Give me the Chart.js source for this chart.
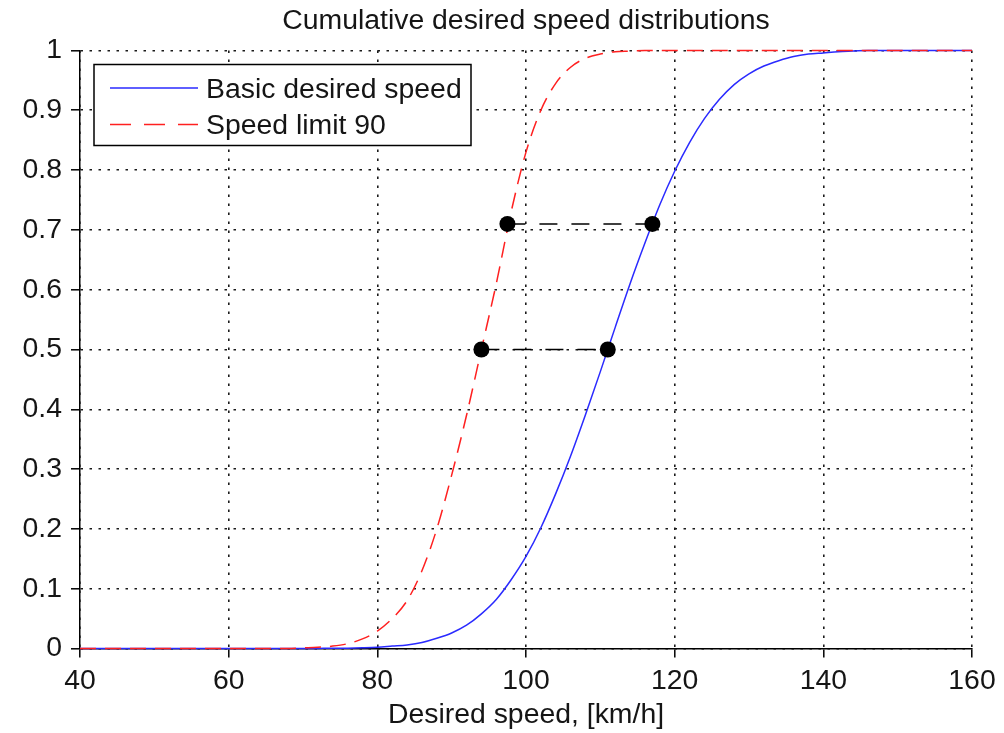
<!DOCTYPE html>
<html>
<head>
<meta charset="utf-8">
<title>Cumulative desired speed distributions</title>
<script src="https://cdn.jsdelivr.net/npm/chart.js@4/dist/chart.umd.min.js"></script>
<style>
  html, body { margin: 0; padding: 0; background: #fff; }
  canvas { display: block; }
</style>
</head>
<body>
<canvas id="cdf" width="1004" height="733"></canvas>
<script>
// Desired speed grid [km/h]
const speeds = [
    40, 42, 44, 46, 48, 50, 52, 54, 56, 58, 60, 62, 64, 66, 68,
    70, 72, 74, 76, 78, 80, 82, 84, 86, 88, 90, 92, 94, 96, 98,
    100, 102, 104, 106, 108, 110, 112, 114, 116, 118, 120, 122, 124, 126, 128,
    130, 132, 134, 136, 138, 140, 142, 144, 146, 148, 150, 152, 154, 156, 158, 160
];

// Cumulative share, basic desired speed
const basicCdf = [
    0, 0, 0, 0, 0, 0, 0, 0, 0, 0, 0, 0, 0, 0, 0,
    0.0001, 0.0002, 0.0003, 0.0006, 0.0011, 0.002, 0.004, 0.006, 0.010, 0.017, 0.026, 0.039, 0.058, 0.082, 0.115,
    0.154, 0.202, 0.259, 0.322, 0.391, 0.463, 0.537, 0.610, 0.678, 0.742, 0.798, 0.846, 0.886, 0.918, 0.943,
    0.961, 0.974, 0.983, 0.990, 0.994, 0.996, 0.998, 0.999, 1, 1, 1, 1, 1, 1, 1, 1
];

// Cumulative share, speed limit 90
const limitCdf = [
    0, 0, 0, 0, 0, 0, 0, 0, 0, 0, 0, 0, 0, 0, 0,
    0.001, 0.002, 0.004, 0.008, 0.016, 0.029, 0.05, 0.08, 0.13, 0.20, 0.29, 0.39, 0.50, 0.61, 0.73,
    0.83, 0.90, 0.945, 0.972, 0.987, 0.994, 0.998, 0.999, 1, 1, 1, 1, 1, 1, 1,
    1, 1, 1, 1, 1, 1, 1, 1, 1, 1, 1, 1, 1, 1, 1, 1
];

// Marked quantiles: speed under limit -> basic speed at the same level
const markerLevels = [0.5, 0.71];
const markerLimitSpeeds = [94, 97.5];
const markerBasicSpeeds = [111, 117];

const xTicks = [40, 60, 80, 100, 120, 140, 160];
const yTicks = [0, 0.1, 0.2, 0.3, 0.4, 0.5, 0.6, 0.7, 0.8, 0.9, 1];

const TITLE = 'Cumulative desired speed distributions';
const FONT = "'Liberation Sans', Arial, sans-serif";
const FSIZE = 28.4;
const INK = '#151515';

const toPoints = ys => speeds.map((s, i) => ({ x: s, y: ys[i] }));

const connectors = markerLevels.map((lvl, i) => ({
    label: '',
    data: [{ x: markerLimitSpeeds[i], y: lvl }, { x: markerBasicSpeeds[i], y: lvl }],
    borderColor: '#000',
    borderWidth: 1.5,
    borderDash: [18, 14],
    pointRadius: 8,
    pointBackgroundColor: '#000',
    pointBorderWidth: 0,
    order: 0,
    clip: false,
}));

// Title centred over the plot area + boxed legend in the top left corner
const decorations = {
    id: 'decorations',
    afterDraw(chart) {
        const { ctx, chartArea } = chart;
        ctx.save();
        ctx.font = FSIZE + 'px ' + FONT;
        ctx.fillStyle = INK;
        ctx.textAlign = 'center';
        ctx.textBaseline = 'alphabetic';
        ctx.fillText(TITLE, (chartArea.left + chartArea.right) / 2, 28.5);

        const x = chartArea.left + 14, y = chartArea.top + 14;
        const w = 377, h = 81;
        const items = [
            { text: 'Basic desired speed', color: '#2a2aff', dash: [] },
            { text: 'Speed limit 90', color: '#ff2020', dash: [21, 13] },
        ];
        ctx.fillStyle = '#fff';
        ctx.fillRect(x, y, w, h);
        ctx.strokeStyle = '#000';
        ctx.lineWidth = 1.5;
        ctx.setLineDash([]);
        ctx.strokeRect(x, y, w, h);
        ctx.textAlign = 'left';
        items.forEach((it, i) => {
            const ly = y + 23.5 + i * 36.5;
            ctx.strokeStyle = it.color;
            ctx.lineWidth = 1.5;
            ctx.setLineDash(it.dash);
            ctx.beginPath();
            ctx.moveTo(x + 16, ly);
            ctx.lineTo(x + 104, ly);
            ctx.stroke();
            ctx.fillStyle = INK;
            ctx.fillText(it.text, x + 112, ly + 9.5);
        });
        ctx.restore();
    }
};

const gridStyle = {
    color: '#1a1a1a',
    lineWidth: 1.6,
    tickColor: '#000',
    tickWidth: 1.5,
    tickBorderDash: [],
    tickLength: 9,
};
const borderStyle = { display: true, color: '#000', width: 1.5, dash: [2.5, 6.5] };

new Chart(document.getElementById('cdf'), {
    type: 'line',
    data: {
        datasets: [
            ...connectors,
            {
                label: 'Speed limit 90',
                data: toPoints(limitCdf),
                borderColor: '#ff2020',
                borderWidth: 1.5,
                borderDash: [16, 9],
                pointRadius: 0,
                cubicInterpolationMode: 'monotone',
                order: 1,
                clip: false,
            },
            {
                label: 'Basic desired speed',
                data: toPoints(basicCdf),
                borderColor: '#2a2aff',
                borderWidth: 1.5,
                pointRadius: 0,
                cubicInterpolationMode: 'monotone',
                order: 2,
                clip: false,
            },
        ],
    },
    options: {
        responsive: false,
        animation: false,
        devicePixelRatio: 1,
        events: [],
        layout: { padding: { left: 0, right: 32, top: 50.5, bottom: 0 } },
        plugins: {
            legend: { display: false },
            tooltip: { enabled: false },
            title: { display: false },
        },
        scales: {
            x: {
                type: 'linear',
                min: 40,
                max: 160,
                afterBuildTicks: s => { s.ticks = xTicks.map(v => ({ value: v })); },
                afterFit: s => { s.height = 84.5; },
                ticks: { color: INK, font: { family: FONT, size: FSIZE }, padding: 7, maxRotation: 0, callback: v => String(v) },
                grid: gridStyle,
                border: borderStyle,
                title: {
                    display: true,
                    text: 'Desired speed, [km/h]',
                    color: INK,
                    font: { family: FONT, size: FSIZE, lineHeight: 1.2 },
                    padding: { top: 0, bottom: 1 },
                },
            },
            y: {
                type: 'linear',
                min: 0,
                max: 1,
                afterBuildTicks: s => { s.ticks = yTicks.map(v => ({ value: v })); },
                afterFit: s => { s.width = 80; },
                ticks: { color: INK, font: { family: FONT, size: FSIZE }, padding: 9, callback: v => String(+v.toFixed(1)) },
                grid: gridStyle,
                border: borderStyle,
            },
        },
    },
    plugins: [decorations],
});
</script>
</body>
</html>
